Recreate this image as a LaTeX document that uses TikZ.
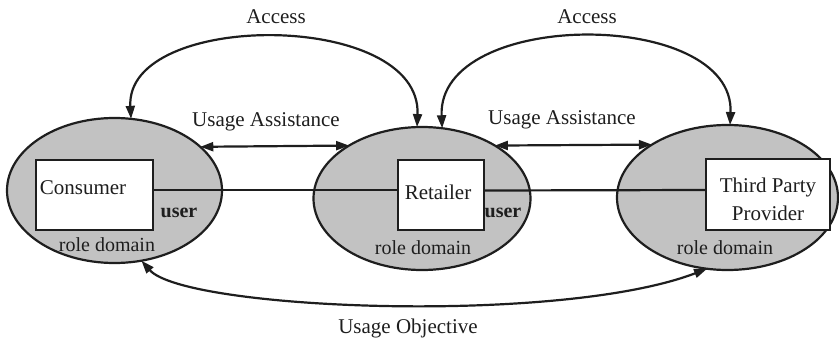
\documentclass[tikz,border=0pt]{standalone}
\usepackage{fontspec}
\setmainfont{Liberation Serif}
\usetikzlibrary{arrows.meta,shapes.geometric}
\definecolor{ink}{HTML}{1E1E1E}
\definecolor{domfill}{HTML}{C2C2C2}
\begin{document}
\begin{tikzpicture}[x=1pt,y=-1pt,
  roledomain/.style={ellipse, draw=ink, line width=2.2pt, fill=domfill, inner sep=0pt, outer sep=0pt},
  rolebox/.style={draw=ink, line width=2pt, fill=white, inner sep=0pt, outer sep=0pt},
  lbl/.style={font=\fontsize{21}{28}\selectfont, text=ink, inner sep=0pt},
  smalllbl/.style={font=\fontsize{20}{24}\selectfont, text=ink, inner sep=0pt},
  userlbl/.style={font=\bfseries\fontsize{20}{22}\selectfont, text=ink, inner sep=0pt},
  link/.style={draw=ink, line width=2.2pt},
  flow/.style={draw=ink, line width=2.2pt, {Triangle[length=13pt,width=9pt]}-{Triangle[length=13pt,width=9pt]}},
]
\useasboundingbox (0,0) rectangle (839,340);

% role domains
\node[roledomain, minimum width=215pt, minimum height=145pt] (cd) at (114.5,190.5) {};
\node[roledomain, minimum width=217pt, minimum height=143pt] (rd) at (422,198.5) {};
\node[roledomain, minimum width=221pt, minimum height=145pt] (td) at (727.5,197.5) {};

% role boxes
\node[rolebox, minimum width=117pt, minimum height=70pt] (cb) at (94.5,195) {};
\node[rolebox, minimum width=86pt, minimum height=70pt] (rb) at (441,195) {};
\node[rolebox, minimum width=124pt, minimum height=71pt] (tb) at (768,194.5) {};

% user links between the roles
\draw[link] ([yshift=5pt]cb.east) -- ([yshift=5pt]rb.west);
\draw[link] ([yshift=4.5pt]rb.east) -- ([yshift=4.5pt]tb.west);

% role names
\node[lbl] (ctxt) at (83,188) {Consumer};
\node[lbl] (rtxt) at (438,192) {Retailer};
\node[lbl, align=center] (ttxt) at (768,199) {Third Party\\Provider};

\node[userlbl] (cuser) at (179,213) {user};
\node[userlbl] (ruser) at (503,213) {user};

\node[smalllbl] (cdom) at (107,245) {role domain};
\node[smalllbl] (rdom) at (423,248) {role domain};
\node[smalllbl] (tdom) at (725,248) {role domain};

% access relations
\draw[flow] (cd.77.9) .. controls (125,10) and (422,10) .. (rd.94);
\draw[flow] (rd.74.8) .. controls (437,8) and (735,8) .. (td.88);
\node[lbl] (acc1) at (276,17) {Access};
\node[lbl] (acc2) at (587,17) {Access};

% usage assistance
\draw[flow] (cd.27.67) -- (rd.144.52);
\draw[flow] (rd.36.62) -- (td.145.44);
\node[lbl] (ua1) at (266,122) {Usage Assistance};
\node[lbl] (ua2) at (562,120) {Usage Assistance};

% usage objective
\draw[flow] (cd.291.5) .. controls (185,310) and (560,325) .. (td.254.9);
\node[lbl] (uo) at (408,328) {Usage Objective};
\end{tikzpicture}
\end{document}
